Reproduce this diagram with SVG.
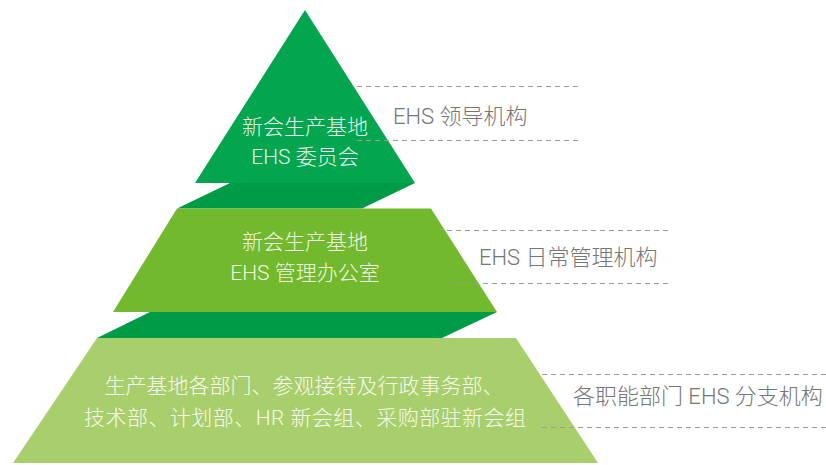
<svg xmlns="http://www.w3.org/2000/svg" width="826" height="465" viewBox="0 0 826 465">
<style>
.in{font-family:Roboto,"Noto Sans CJK SC",sans-serif;font-weight:300;font-size:21px;fill:#ffffff;fill-opacity:0.92;text-anchor:middle}
.lb{font-family:Roboto,"Noto Sans CJK SC",sans-serif;font-weight:300;font-size:22px;fill:#767676}
.dash{stroke:#9a9a9a;stroke-width:1;stroke-dasharray:5 4;fill:none}
.band{fill:#009b46}
</style>
<rect width="826" height="465" fill="#ffffff"/>
<g id="bands">
<polygon class="band" points="230,183 415,183 362,208.5 177,208.5"/>
<polygon class="band" points="150,312 497,312 442,338 97,338"/>
</g>
<g id="level1">
<polygon points="305,10 415,183 195,183" fill="#03a64f"/>
<text class="in" x="305" y="134">新会生产基地</text>
<text class="in" x="305" y="164">EHS 委员会</text>
</g>
<g id="level2">
<polygon points="177,208.5 431,208.5 497,312 113,312" fill="#72b92d"/>
<text class="in" x="305" y="249">新会生产基地</text>
<text class="in" x="305" y="280">EHS 管理办公室</text>
</g>
<g id="level3">
<polygon points="97,338 516,338 598,463 13,463" fill="#a9cf6c"/>
<text class="in" x="304" y="393">生产基地各部门、参观接待及行政事务部、</text>
<text class="in" x="305" y="425" textLength="442">技术部、计划部、HR 新会组、采购部驻新会组</text>
</g>
<g id="connectors">
<line class="dash" x1="357" y1="86.5" x2="582" y2="86.5"/>
<line class="dash" x1="357" y1="140.5" x2="582" y2="140.5"/>
<line class="dash" x1="447" y1="230.5" x2="670" y2="230.5"/>
<line class="dash" x1="447" y1="283.5" x2="670" y2="283.5"/>
<line class="dash" x1="542" y1="374.5" x2="826" y2="374.5"/>
<line class="dash" x1="542" y1="427.5" x2="826" y2="427.5"/>
</g>
<g id="label1"><text class="lb" x="393" y="124">EHS 领导机构</text></g>
<g id="label2"><text class="lb" x="479" y="265">EHS 日常管理机构</text></g>
<g id="label3"><text class="lb" x="573" y="404">各职能部门 EHS 分支机构</text></g>
</svg>
